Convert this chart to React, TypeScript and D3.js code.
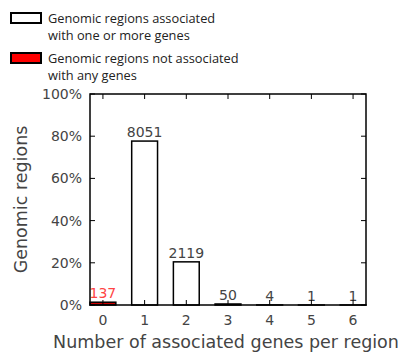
import * as d3 from 'd3';
import React, { useEffect, useRef } from 'react';

const categories = ['0', '1', '2', '3', '4', '5', '6'];
const counts = [137, 8051, 2119, 50, 4, 1, 1];
const yTicks = [0, 20, 40, 60, 80, 100];
const legendItems = [
  { lines: ['Genomic regions associated', 'with one or more genes'], fill: '#ffffff' },
  { lines: ['Genomic regions not associated', 'with any genes'], fill: '#ff0000' },
];

const W = 406;
const H = 353;
const margin = { left: 90, right: 40, top: 94, bottom: 48 };
const barW = 0.62;

export default function App() {
  const ref = useRef<SVGSVGElement>(null);

  useEffect(() => {
    drawChart();
  }, []);

  function drawChart() {
    const svg = d3.select(ref.current);
    svg.selectAll('*').remove();

    const total = d3.sum(counts);
    const pct = counts.map((c) => (c / total) * 100);

    const x = d3
      .scaleLinear()
      .domain([0, categories.length - 1 + barW])
      .range([margin.left, W - margin.right]);
    const y = d3
      .scaleLinear()
      .domain([0, 100])
      .range([H - margin.bottom, margin.top]);

    const font = 'DejaVu Sans, sans-serif';
    const grey = '#444';

    // bars
    svg
      .selectAll('rect.bar')
      .data(pct)
      .enter()
      .append('rect')
      .attr('class', 'bar')
      .attr('x', (_d, i) => x(i))
      .attr('width', x(barW) - x(0))
      .attr('y', (d) => y(d))
      .attr('height', (d) => y(0) - y(d))
      .attr('fill', (_d, i) => (i === 0 ? '#cc0000' : '#ffffff'))
      .attr('stroke', '#000')
      .attr('stroke-width', 1.5);

    // value labels
    svg
      .selectAll('text.val')
      .data(pct)
      .enter()
      .append('text')
      .attr('class', 'val')
      .attr('x', (_d, i) => x(i + barW / 2))
      .attr('y', (d) => y(d) - 4)
      .attr('text-anchor', 'middle')
      .attr('font-family', font)
      .attr('font-size', 14)
      .attr('fill', (_d, i) => (i === 0 ? '#ff4444' : grey))
      .text((_d, i) => counts[i]);

    // frame
    svg
      .append('rect')
      .attr('x', x.range()[0])
      .attr('y', y(100))
      .attr('width', x.range()[1] - x.range()[0])
      .attr('height', y(0) - y(100))
      .attr('fill', 'none')
      .attr('stroke', '#000')
      .attr('stroke-width', 1.5);

    const tickLen = 5;
    // x ticks top and bottom (inward)
    categories.forEach((c, i) => {
      const cx = x(i + barW / 2);
      svg.append('line').attr('x1', cx).attr('x2', cx).attr('y1', y(100)).attr('y2', y(100) + tickLen).attr('stroke', '#000');
      svg.append('line').attr('x1', cx).attr('x2', cx).attr('y1', y(0)).attr('y2', y(0) - tickLen).attr('stroke', '#000');
      svg
        .append('text')
        .attr('x', cx)
        .attr('y', y(0) + 20)
        .attr('text-anchor', 'middle')
        .attr('font-family', font)
        .attr('font-size', 14)
        .attr('fill', grey)
        .text(c);
    });

    // y ticks left and right (inward)
    yTicks.forEach((t) => {
      const ty = y(t);
      svg.append('line').attr('x1', x.range()[0]).attr('x2', x.range()[0] + tickLen).attr('y1', ty).attr('y2', ty).attr('stroke', '#000');
      svg.append('line').attr('x1', x.range()[1]).attr('x2', x.range()[1] - tickLen).attr('y1', ty).attr('y2', ty).attr('stroke', '#000');
      svg
        .append('text')
        .attr('x', x.range()[0] - 8)
        .attr('y', ty + 5)
        .attr('text-anchor', 'end')
        .attr('font-family', font)
        .attr('font-size', 14)
        .attr('fill', grey)
        .text(t + '%');
    });

    // axis titles
    svg
      .append('text')
      .attr('transform', `translate(27,${(y(0) + y(100)) / 2}) rotate(-90)`)
      .attr('text-anchor', 'middle')
      .attr('font-family', font)
      .attr('font-size', 17.5)
      .attr('fill', grey)
      .text('Genomic regions');
    svg
      .append('text')
      .attr('x', 226)
      .attr('y', 348)
      .attr('text-anchor', 'middle')
      .attr('font-family', font)
      .attr('font-size', 17.5)
      .attr('fill', grey)
      .text('Number of associated genes per region');

    // legend
    legendItems.forEach((item, i) => {
      const top = 13 + i * 40;
      svg
        .append('rect')
        .attr('x', 11)
        .attr('y', top)
        .attr('width', 30)
        .attr('height', 10)
        .attr('fill', item.fill)
        .attr('stroke', '#000')
        .attr('stroke-width', 2);
      item.lines.forEach((ln, j) => {
        svg
          .append('text')
          .attr('x', 48)
          .attr('y', top + 10 + j * 17)
          .attr('font-family', 'Open Sans, sans-serif')
          .attr('font-size', 12.8)
          .attr('fill', '#222')
          .text(ln);
      });
    });
  }

  return (
    <svg
      ref={ref}
      width={W}
      height={H}
      style={{ position: 'absolute', left: 0, top: 0, background: '#fff' }}
    />
  );
}
